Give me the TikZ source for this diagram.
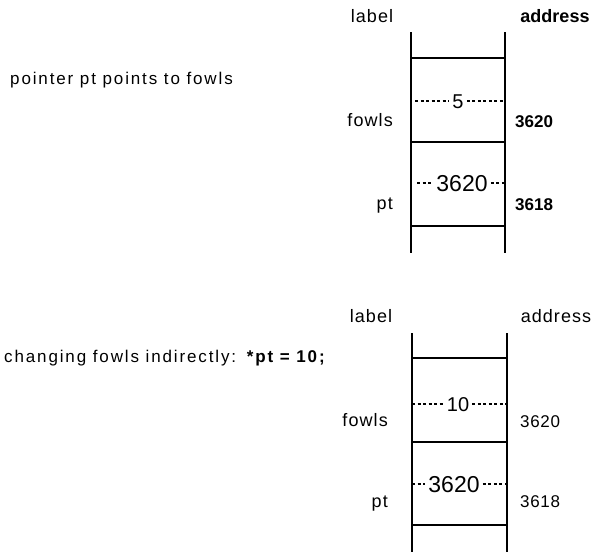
\documentclass[tikz,border=0pt]{standalone}
\usepackage{fontspec}
\setmainfont{Liberation Sans}
\begin{document}
\begin{tikzpicture}[x=1pt,y=-1pt,
  txt/.style={inner sep=0pt, anchor=base, font=\fontsize{18}{20}\selectfont\addfontfeatures{LetterSpace=6}},
  lbl/.style={inner sep=0pt, anchor=base east, font=\fontsize{18}{20}\selectfont\addfontfeatures{LetterSpace=6}},
  addr/.style={inner sep=0pt, anchor=base west, font=\fontsize{17}{20}\selectfont\addfontfeatures{LetterSpace=4}},
  capt/.style={inner sep=0pt, anchor=base west, font=\fontsize{17}{20}\selectfont\addfontfeatures{LetterSpace=11}},
  val/.style={inner sep=3pt, anchor=base, font=\fontsize{23}{26}\selectfont},
  sval/.style={inner sep=3pt, anchor=base, font=\fontsize{20}{24}\selectfont},
  wall/.style={line width=2pt},
  dots/.style={line width=2.2pt, dash pattern=on 3pt off 2.5pt}]
\useasboundingbox (0,0) rectangle (591,552);

% ---------- top diagram ----------
\node[capt] (c1) at (10,84) {pointer pt points to fowls};
\node[txt] (hl1) at (372,22) {label};
\node[txt, font=\fontsize{18}{20}\selectfont\bfseries] (ha1) at (555,22) {address};

\coordinate (tl1) at (411,32);
\coordinate (bl1) at (411,253);
\coordinate (tr1) at (505,32);
\coordinate (br1) at (505,253);
\draw[wall] (tl1) -- (bl1);
\draw[wall] (tr1) -- (br1);
\draw[wall] (411,58) -- (505,58);
\draw[wall] (411,142) -- (505,142);
\draw[wall] (411,226) -- (505,226);

\node[sval] (v5) at (458,108) {5};
\draw[dots] ([xshift=4pt]v5.west -| tl1) -- (v5.west);
\draw[dots] (v5.east) -- (v5.east -| tr1);
\node[val] (v3620a) at (462,191) {3620};
\draw[dots] ([xshift=6pt]v3620a.west -| tl1) -- (v3620a.west);
\draw[dots] (v3620a.east) -- (v3620a.east -| tr1);

\node[lbl] (fowls1) at (393,126) {fowls};
\node[lbl] (pt1) at (393,209) {pt};
\node[addr, font=\fontsize{17}{20}\selectfont\bfseries] (a1) at (515,127) {3620};
\node[addr, font=\fontsize{17}{20}\selectfont\bfseries] (a2) at (515,210) {3618};

% ---------- bottom diagram ----------
\node[capt] (c2) at (4,362) {changing fowls indirectly: \textbf{*pt = 10;}};
\node[txt] (hl2) at (371,322) {label};
\node[txt] (ha2) at (556,322) {address};

\coordinate (tl2) at (412,333);
\coordinate (bl2) at (412,552);
\coordinate (tr2) at (507,333);
\coordinate (br2) at (507,552);
\draw[wall] (tl2) -- (bl2);
\draw[wall] (tr2) -- (br2);
\draw[wall] (412,358) -- (507,358);
\draw[wall] (412,442) -- (507,442);
\draw[wall] (412,525) -- (507,525);

\node[sval] (v10) at (458,411) {10};
\draw[dots] (v10.west -| tl2) -- (v10.west);
\draw[dots] (v10.east) -- (v10.east -| tr2);
\node[val] (v3620b) at (454,492) {3620};
\draw[dots] (v3620b.west -| tl2) -- (v3620b.west);
\draw[dots] (v3620b.east) -- (v3620b.east -| tr2);

\node[lbl] (fowls2) at (388,426) {fowls};
\node[lbl] (pt2) at (388,507) {pt};
\node[addr] (a3) at (520,427) {3620};
\node[addr] (a4) at (520,507) {3618};
\end{tikzpicture}
\end{document}
